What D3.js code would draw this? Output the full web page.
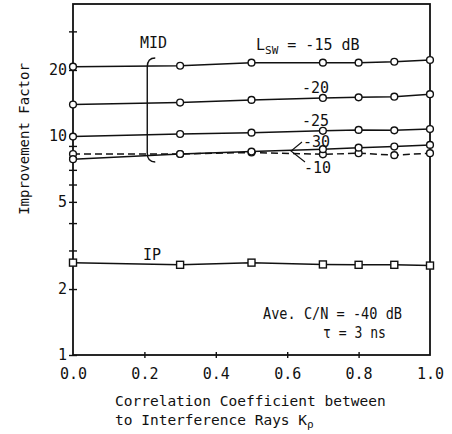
<!DOCTYPE html>
<html>
<head>
<meta charset="utf-8">
<script src="https://cdn.jsdelivr.net/npm/d3@7"></script>
<style>
  body { margin: 0; background: #fff; }
  text { font-family: "DejaVu Sans Mono", monospace; fill: #111; }
</style>
</head>
<body>
<script>
// correlation coefficient K_rho (x positions of the measured points)
var kRho = [0, 0.3, 0.5, 0.7, 0.8, 0.9, 1.0];

// improvement factor, MID, for each L_sw
var mid15 = [20.7, 20.9, 21.6, 21.6, 21.6, 21.8, 22.2];
var mid20 = [13.9, 14.2, 14.6, 14.9, 15.0, 15.1, 15.5];
var mid25 = [9.93, 10.2, 10.35, 10.55, 10.65, 10.6, 10.75];
var mid30 = [7.83, 8.27, 8.48, 8.7, 8.84, 8.94, 9.1];
var mid10 = [8.27, 8.27, 8.4, 8.24, 8.34, 8.17, 8.34];
// improvement factor, IP
var ipVals = [2.64, 2.58, 2.64, 2.59, 2.58, 2.58, 2.56];

var xTicks = [0, 0.2, 0.4, 0.6, 0.8, 1.0];
var yTicks = [1, 2, 3, 4, 5, 6, 7, 8, 9, 10, 20, 30];
var yLabels = [1, 2, 5, 10, 20];

var width = 452, height = 434;
var plotL = 73, plotR = 430, plotT = 4, plotB = 355;

var svg = d3.select("body")
    .append("svg")
    .attr("width", width)
    .attr("height", height);

var x = d3.scaleLinear().domain([0, 1]).range([plotL, plotR]);
var y = d3.scaleLog().domain([1, 40]).range([plotB, plotT]);

var series = [
    { name: "-15", vals: mid15, dash: null, mark: "circle" },
    { name: "-20", vals: mid20, dash: null, mark: "circle" },
    { name: "-25", vals: mid25, dash: null, mark: "circle" },
    { name: "-10", vals: mid10, dash: "7,4", mark: "circle" },
    { name: "-30", vals: mid30, dash: null, mark: "circle" },
    { name: "IP", vals: ipVals, dash: null, mark: "square" }
];

// frame
svg.append("rect")
    .attr("x", plotL)
    .attr("y", plotT)
    .attr("width", plotR - plotL)
    .attr("height", plotB - plotT)
    .attr("fill", "none")
    .attr("stroke", "#111")
    .attr("stroke-width", 1.8);

// axes: ticks cross the frame, so draw an outside and an inside axis
var gyl = svg.append("g")
    .attr("transform", "translate(" + plotL + ",0)")
    .call(d3.axisLeft(y)
        .tickValues(yTicks)
        .tickSize(4)
        .tickPadding(2)
        .tickFormat(function (d) {
            return yLabels.indexOf(d) >= 0 ? d : "";
        }));
var gyr = svg.append("g")
    .attr("transform", "translate(" + plotL + ",0)")
    .call(d3.axisRight(y).tickValues(yTicks).tickSize(4).tickFormat(""));

var gxb = svg.append("g")
    .attr("transform", "translate(0," + plotB + ")")
    .call(d3.axisBottom(x)
        .tickValues(xTicks)
        .tickSize(3)
        .tickPadding(10)
        .tickFormat(d3.format(".1f")));
var gxt = svg.append("g")
    .attr("transform", "translate(0," + plotB + ")")
    .call(d3.axisTop(x).tickValues(xTicks.slice(1, -1)).tickSize(3).tickFormat(""));

[gyl, gyr, gxb, gxt].forEach(function (g) {
    g.select(".domain").remove();
    g.selectAll("line").attr("stroke", "#111").attr("stroke-width", 1.4);
    g.selectAll("text")
        .style("font-family", "DejaVu Sans Mono, monospace")
        .style("font-size", "15px")
        .attr("fill", "#111");
});
gxb.selectAll(".tick").filter(function (d) { return d === 0 || d === 1; })
    .select("line").remove();

// lines
var line = d3.line()
    .x(function (d, i) { return x(kRho[i]); })
    .y(function (d) { return y(d); });

svg.selectAll(".series")
    .data(series)
    .enter()
    .append("path")
    .attr("class", "series")
    .attr("d", function (d) { return line(d.vals); })
    .attr("fill", "none")
    .attr("stroke", "#111")
    .attr("stroke-width", 1.5)
    .attr("stroke-dasharray", function (d) { return d.dash; });

// markers
series.forEach(function (s) {
    var pts = s.vals.map(function (v, i) { return { k: kRho[i], v: v }; });
    if (s.mark === "circle") {
        svg.selectAll(null)
            .data(pts)
            .enter()
            .append("circle")
            .attr("cx", function (d) { return x(d.k); })
            .attr("cy", function (d) { return y(d.v); })
            .attr("r", 3.4)
            .attr("fill", "#fff")
            .attr("stroke", "#111")
            .attr("stroke-width", 1.4);
    } else {
        svg.selectAll(null)
            .data(pts)
            .enter()
            .append("rect")
            .attr("x", function (d) { return x(d.k) - 3.5; })
            .attr("y", function (d) { return y(d.v) - 3.5; })
            .attr("width", 7)
            .attr("height", 7)
            .attr("fill", "#fff")
            .attr("stroke", "#111")
            .attr("stroke-width", 1.4);
    }
});

// annotations
var note = function (tx, ty, str, size) {
    return svg.append("text")
        .attr("x", tx)
        .attr("y", ty)
        .style("font-size", (size || 15) + "px")
        .text(str);
};

note(140, 48, "MID");
var lsw = note(256, 50, "L");
lsw.append("tspan").attr("dy", 4).style("font-size", "11px").text("SW");
lsw.append("tspan").attr("dy", -4).text(" = -15 dB");

note(302, 93, "-20");
note(302, 126, "-25");
note(303, 147, "-30");
note(304, 173, "-10");
note(143, 260, "IP");
note(263, 319, "Ave. C/N = -40 dB").attr("textLength", 139).attr("lengthAdjust", "spacingAndGlyphs");
note(323, 338, "\u03c4 = 3 ns").attr("textLength", 63).attr("lengthAdjust", "spacingAndGlyphs");

// brace grouping the MID curves
var bx = x(0.208);
svg.append("path")
    .attr("d", "M" + (bx + 8) + "," + 58 +
        " Q" + bx + "," + 58 + " " + bx + "," + 67 +
        " L" + bx + "," + 153 +
        " Q" + bx + "," + 162 + " " + (bx + 8) + "," + 162)
    .attr("fill", "none")
    .attr("stroke", "#111")
    .attr("stroke-width", 1.4);

// leaders for -30 and -10
svg.append("path")
    .attr("d", "M302,142 L291,151 L305,162")
    .attr("fill", "none")
    .attr("stroke", "#111")
    .attr("stroke-width", 1.1);

// axis titles
svg.append("text")
    .attr("transform", "translate(29," + 139 + ") rotate(-90)")
    .attr("text-anchor", "middle")
    .style("font-size", "14px")
    .text("Improvement Factor");

note(115, 406, "Correlation Coefficient between", 14.5);
var kt = note(115, 425, "to Interference Rays K", 14.5);
kt.append("tspan").attr("dy", 3).style("font-size", "11px").text("\u03c1");
</script>
</body>
</html>
